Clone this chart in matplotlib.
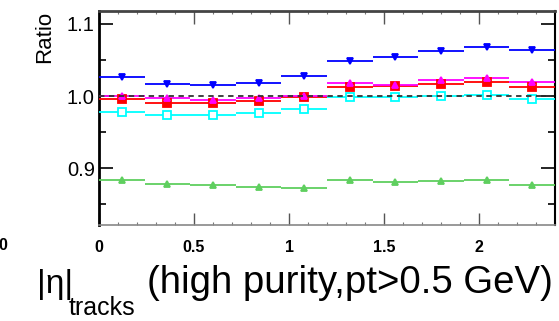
import numpy as np
import matplotlib
matplotlib.use('Agg')
import matplotlib.pyplot as plt
from matplotlib.ticker import MultipleLocator

plt.rcParams['font.family'] = ['Liberation Sans', 'DejaVu Sans']

# |eta| bins (10 bins of 0.24)
eta_centers = [0.12, 0.36, 0.60, 0.84, 1.08, 1.32, 1.56, 1.80, 2.04, 2.28]
half_width = 0.12

ratio_blue = [1.026, 1.016, 1.015, 1.018, 1.028, 1.049, 1.054, 1.062, 1.068, 1.064]
ratio_magenta = [1.000, 0.997, 0.995, 0.997, 1.000, 1.018, 1.015, 1.022, 1.025, 1.019]
ratio_red = [0.996, 0.990, 0.991, 0.993, 0.998, 1.013, 1.014, 1.017, 1.019, 1.012]
ratio_cyan = [0.978, 0.973, 0.974, 0.977, 0.982, 0.998, 0.998, 1.000, 1.002, 0.996]
ratio_green = [0.884, 0.878, 0.876, 0.874, 0.872, 0.884, 0.881, 0.882, 0.884, 0.876]

fig = plt.figure(figsize=(5.59, 3.21), dpi=100)
ax = fig.add_axes([99/559, 1 - 225/321, 456/559, 214/321])

ax.axhline(1.0, color='#333333', lw=1.3, ls=(0, (3, 2.5)), zorder=5)

series = [
    (ratio_green, '#5fcf5f', '^', 'fill', 4.5),
    (ratio_cyan, '#00ffff', 's', 'open', 5.5),
    (ratio_red, '#ff0000', 's', 'fill', 5.5),
    (ratio_magenta, '#ff00ff', '^', 'fill', 4),
    (ratio_blue, '#0000ff', 'v', 'fill', 5),
]
for vals, col, mk, style, ms in series:
    ax.errorbar(eta_centers, vals, xerr=half_width, fmt=mk, color=col,
                ecolor=col, elinewidth=1.3, capsize=0, ms=ms,
                mfc=('white' if style == 'open' else col), mec=col, mew=1.3,
                zorder=4)

ax.set_xlim(0, 2.4)
ax.set_ylim(0.821, 1.118)

ax.xaxis.set_minor_locator(MultipleLocator(0.1))
ax.yaxis.set_minor_locator(MultipleLocator(0.05))
ax.set_xticks([0, 0.5, 1, 1.5, 2])
ax.set_xticklabels(['0', '0.5', '1', '1.5', '2'])
ax.set_yticks([0.9, 1.0, 1.1])
ax.set_yticklabels(['0.9', '1.0', '1.1'])

ax.tick_params(axis='both', which='both', direction='in', top=True, right=True)
ax.tick_params(axis='x', which='major', length=9, width=1, color='#555555',
               labelsize=11.5, pad=11)
ax.tick_params(axis='x', which='minor', length=2, width=0.8, color='#777777')
ax.tick_params(axis='y', which='major', length=10, width=1.2, labelsize=14.5, pad=3)
ax.tick_params(axis='y', which='minor', length=5, width=1.2)
for lab in ax.get_xticklabels():
    lab.set_fontweight('bold')

ax.spines['left'].set_linewidth(2)
ax.spines['left'].set_color('black')
ax.spines['right'].set_linewidth(1.5)
ax.spines['top'].set_linewidth(2)
ax.spines['top'].set_color('#444444')
ax.spines['bottom'].set_linewidth(1.2)
ax.spines['bottom'].set_color('#888888')

fig.text(45/559, 1 - 37/321, 'Ratio', rotation=90, fontsize=16,
         ha='center', va='center')

# x title: |eta| with a low subscript, then the rest right-aligned
base_y = 1 - 293/321
fig.text(37/559, base_y, '|η|', fontsize=24, ha='left', va='baseline')
fig.text(69/559, 1 - 315/321, 'tracks', fontsize=18, ha='left', va='baseline')
fig.text(553/559, base_y, '(high purity,pt>0.5 GeV)', fontsize=27.6,
         ha='right', va='baseline')

# leftover label from the neighbouring pad
fig.text(3/559, 1 - 246/321, '0', fontsize=11.5, fontweight='bold',
         ha='center', va='center')

fig.savefig('out.png', dpi=100)
